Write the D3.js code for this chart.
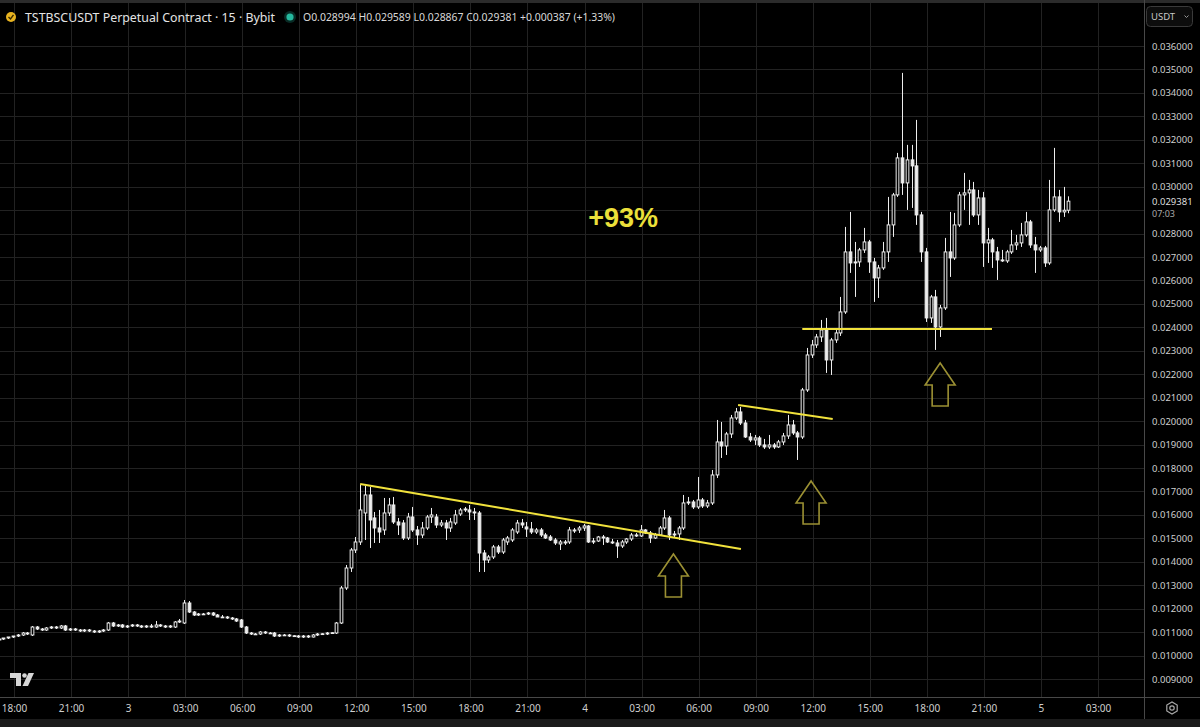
<!DOCTYPE html>
<meta charset="utf-8">
<head>
<style>
  body { margin: 0; background: #000; overflow: hidden; }
  #chart text { font-family: "Noto Sans", Roboto, sans-serif; }
</style>
</head>
<body>
<div id="chart"></div>
<script src="https://cdn.jsdelivr.net/npm/d3@7"></script>
<script>

// 15 minute bars, bar 0 = 17:15 on day 2
var opens = [
  0.010664,0.010706,0.010749,0.010792,0.010834,0.010877,0.010962,0.010877,0.011218,0.011133,
  0.011090,0.011176,0.011218,0.011176,0.011261,0.011090,0.011133,0.011090,0.011048,0.011090,
  0.011048,0.011005,0.011048,0.011090,0.011389,0.011261,0.011304,0.011218,0.011261,0.011304,
  0.011261,0.011218,0.011261,0.011218,0.011304,0.011261,0.011218,0.011218,0.011432,0.011389,
  0.012242,0.011858,0.011730,0.011773,0.011773,0.011816,0.011730,0.011645,0.011645,0.011602,
  0.011560,0.011517,0.011218,0.010962,0.010920,0.010920,0.011005,0.010962,0.010962,0.010834,
  0.010877,0.010877,0.010834,0.010834,0.010792,0.010834,0.010792,0.010877,0.010920,0.010920,
  0.010962,0.010962,0.011389,0.012882,0.013735,0.014503,0.014845,0.016082,0.016850,0.015869,
  0.015442,0.015357,0.016082,0.016423,0.015698,0.015655,0.015015,0.015911,0.015357,0.015143,
  0.015442,0.015911,0.015911,0.015570,0.015655,0.015442,0.015655,0.016039,0.016210,0.016210,
  0.016125,0.016082,0.014375,0.014077,0.014205,0.014631,0.014418,0.014845,0.014930,0.015271,
  0.015655,0.015485,0.015399,0.015271,0.015357,0.015143,0.015058,0.014930,0.014760,0.014845,
  0.014845,0.015314,0.015357,0.015442,0.015527,0.014845,0.014887,0.015058,0.015015,0.014845,
  0.014802,0.014674,0.014845,0.014973,0.015143,0.015101,0.015357,0.015229,0.015015,0.015143,
  0.015442,0.015869,0.015143,0.015186,0.015442,0.016509,0.016551,0.016338,0.016637,0.016381,
  0.016509,0.017703,0.019111,0.018940,0.019452,0.020135,0.020391,0.019921,0.019324,0.019196,
  0.019282,0.018983,0.018898,0.018983,0.018898,0.019111,0.019367,0.019836,0.019495,0.019324,
  0.021329,0.022822,0.023249,0.023590,0.023889,0.022609,0.023462,0.023761,0.024657,0.027217,
  0.026747,0.026790,0.027302,0.027643,0.026790,0.026108,0.026534,0.027217,0.028369,0.029648,
  0.031227,0.030160,0.031142,0.030886,0.028795,0.027217,0.024401,0.025297,0.024017,0.024828,
  0.027217,0.026961,0.028369,0.029648,0.029734,0.029862,0.028795,0.029520,0.027601,0.027729,
  0.027217,0.026875,0.026833,0.027217,0.027515,0.027601,0.027942,0.028497,0.027515,0.027302,
  0.027387,0.026747,0.029009,0.029563,0.028923,0.028994
];
var highs = [
  0.010706,0.010749,0.010792,0.010834,0.010920,0.011005,0.011005,0.011261,0.011261,0.011176,
  0.011218,0.011261,0.011261,0.011304,0.011304,0.011176,0.011176,0.011133,0.011133,0.011133,
  0.011090,0.011090,0.011133,0.011432,0.011432,0.011346,0.011346,0.011304,0.011346,0.011346,
  0.011304,0.011304,0.011346,0.011474,0.011346,0.011304,0.011304,0.011474,0.011560,0.012370,
  0.012327,0.011901,0.011816,0.011816,0.011858,0.011858,0.011773,0.011730,0.011688,0.011645,
  0.011602,0.011560,0.011261,0.011005,0.010962,0.011048,0.011048,0.011005,0.011005,0.010920,
  0.010920,0.010920,0.010877,0.010877,0.010877,0.010877,0.010920,0.010962,0.010962,0.011005,
  0.011005,0.011432,0.012967,0.013863,0.014589,0.015058,0.017277,0.017234,0.017191,0.016125,
  0.016210,0.016722,0.016722,0.016765,0.015869,0.015783,0.016082,0.016338,0.015527,0.015698,
  0.015997,0.016295,0.016039,0.015783,0.015783,0.015869,0.016210,0.016295,0.016338,0.016423,
  0.016295,0.016167,0.014503,0.014290,0.014717,0.014717,0.015015,0.015101,0.015442,0.015783,
  0.015826,0.015698,0.015698,0.015442,0.015442,0.015229,0.015143,0.015015,0.014930,0.014930,
  0.015485,0.015442,0.015527,0.015613,0.015570,0.015015,0.015101,0.015143,0.015058,0.014973,
  0.014930,0.014930,0.015015,0.015229,0.015229,0.015570,0.015399,0.015314,0.015229,0.015527,
  0.016210,0.015954,0.015314,0.015527,0.016850,0.016765,0.016637,0.017618,0.016722,0.016637,
  0.017916,0.020049,0.019964,0.019538,0.020263,0.020561,0.020604,0.020049,0.019495,0.019410,
  0.019367,0.019239,0.019410,0.019068,0.019196,0.019495,0.020263,0.020049,0.019580,0.021415,
  0.023121,0.023462,0.023718,0.024316,0.024401,0.023548,0.023889,0.025297,0.028283,0.028923,
  0.027643,0.027387,0.028241,0.027729,0.026961,0.026662,0.027643,0.029563,0.029734,0.031440,
  0.034853,0.031782,0.031782,0.032848,0.028923,0.027387,0.025382,0.025596,0.024956,0.027814,
  0.028923,0.028881,0.029776,0.030587,0.030288,0.030203,0.029862,0.029776,0.028241,0.027814,
  0.027430,0.027302,0.027302,0.028155,0.027942,0.028454,0.028923,0.028582,0.027857,0.027473,
  0.027473,0.030288,0.031654,0.029862,0.029990,0.029589
];
var lows = [
  0.010621,0.010664,0.010706,0.010749,0.010792,0.010834,0.010877,0.010834,0.011090,0.011048,
  0.011048,0.011133,0.011133,0.011133,0.011048,0.011048,0.011048,0.011005,0.011005,0.011005,
  0.010962,0.010962,0.011005,0.011048,0.011218,0.011218,0.011176,0.011176,0.011218,0.011218,
  0.011176,0.011176,0.011176,0.011176,0.011218,0.011176,0.011176,0.011176,0.011389,0.011346,
  0.011816,0.011688,0.011688,0.011730,0.011730,0.011688,0.011645,0.011602,0.011560,0.011517,
  0.011432,0.011176,0.010920,0.010877,0.010877,0.010877,0.010920,0.010920,0.010792,0.010792,
  0.010834,0.010792,0.010792,0.010749,0.010749,0.010749,0.010770,0.010834,0.010877,0.010877,
  0.010920,0.010920,0.011346,0.012797,0.013565,0.014375,0.014717,0.014930,0.014589,0.014802,
  0.014802,0.015143,0.015954,0.015613,0.015143,0.014930,0.014930,0.015271,0.014717,0.015015,
  0.015357,0.015655,0.015442,0.015485,0.014930,0.015271,0.015570,0.015954,0.016125,0.015783,
  0.015783,0.013565,0.013565,0.013949,0.014119,0.014333,0.014333,0.014717,0.014845,0.015186,
  0.015442,0.015058,0.015186,0.015186,0.015058,0.014973,0.014887,0.014717,0.014503,0.014717,
  0.014760,0.015229,0.015229,0.015314,0.014802,0.014760,0.014845,0.014717,0.014802,0.014760,
  0.014162,0.014589,0.014760,0.014887,0.015058,0.015058,0.015186,0.014802,0.014973,0.015101,
  0.015357,0.014930,0.015058,0.014930,0.015357,0.016423,0.016253,0.016253,0.016295,0.016295,
  0.016423,0.017575,0.018428,0.018556,0.019282,0.020049,0.019836,0.019282,0.019111,0.018983,
  0.018898,0.018812,0.018812,0.018812,0.018855,0.018983,0.019239,0.019410,0.018343,0.019239,
  0.021244,0.022694,0.023121,0.023377,0.022055,0.021969,0.023335,0.023633,0.024572,0.026321,
  0.025297,0.026577,0.027174,0.026321,0.025084,0.025254,0.026449,0.026790,0.027857,0.029563,
  0.029648,0.029009,0.029094,0.028369,0.026790,0.024230,0.024188,0.023036,0.023590,0.024742,
  0.026150,0.026875,0.028283,0.029009,0.028369,0.028710,0.028369,0.026577,0.026747,0.026534,
  0.026022,0.026790,0.026747,0.027131,0.027302,0.027430,0.027857,0.027387,0.026321,0.027217,
  0.026577,0.026662,0.028923,0.028497,0.028710,0.028867
];
var closes = [
  0.010706,0.010749,0.010792,0.010834,0.010877,0.010962,0.010920,0.011218,0.011133,0.011090,
  0.011176,0.011218,0.011176,0.011261,0.011090,0.011133,0.011090,0.011048,0.011090,0.011048,
  0.011005,0.011048,0.011090,0.011389,0.011261,0.011304,0.011218,0.011261,0.011304,0.011261,
  0.011218,0.011261,0.011218,0.011304,0.011261,0.011218,0.011261,0.011432,0.011474,0.012242,
  0.011858,0.011730,0.011773,0.011773,0.011816,0.011730,0.011645,0.011630,0.011602,0.011560,
  0.011474,0.011218,0.010962,0.010920,0.010905,0.011005,0.010962,0.010950,0.010834,0.010877,
  0.010865,0.010834,0.010845,0.010792,0.010834,0.010792,0.010877,0.010920,0.010930,0.010962,
  0.010975,0.011389,0.012882,0.013735,0.014503,0.014845,0.016210,0.016850,0.015783,0.015442,
  0.015271,0.016082,0.016423,0.015698,0.015570,0.015015,0.015911,0.015357,0.015143,0.015442,
  0.015911,0.015997,0.015570,0.015655,0.015442,0.015698,0.015997,0.016210,0.016253,0.016125,
  0.016082,0.014375,0.014077,0.014205,0.014631,0.014418,0.014930,0.015015,0.015357,0.015655,
  0.015570,0.015399,0.015271,0.015357,0.015143,0.015015,0.014930,0.014802,0.014845,0.014802,
  0.015357,0.015357,0.015442,0.015527,0.014845,0.014887,0.015058,0.015015,0.014845,0.014802,
  0.014674,0.014845,0.014973,0.015143,0.015101,0.015357,0.015229,0.015015,0.015143,0.015442,
  0.015869,0.015143,0.015186,0.015442,0.016509,0.016551,0.016338,0.016637,0.016381,0.016509,
  0.017703,0.019111,0.018940,0.019452,0.020135,0.020391,0.019921,0.019324,0.019196,0.019282,
  0.018983,0.018898,0.018983,0.018898,0.019111,0.019367,0.019836,0.019495,0.019324,0.021329,
  0.022822,0.023249,0.023590,0.023889,0.022609,0.023462,0.023761,0.024657,0.027217,0.026747,
  0.026790,0.027302,0.027643,0.026790,0.026108,0.026534,0.027217,0.028369,0.029648,0.031227,
  0.030160,0.031142,0.030886,0.028795,0.027217,0.024401,0.025297,0.024017,0.024828,0.027217,
  0.026961,0.028369,0.029648,0.029734,0.029862,0.028795,0.029520,0.027601,0.027729,0.027217,
  0.026875,0.026833,0.027217,0.027515,0.027601,0.027942,0.028497,0.027515,0.027302,0.027387,
  0.026747,0.029009,0.029563,0.028923,0.028994,0.029381
];

var timeLabels = ["18:00","21:00","3","03:00","06:00","09:00","12:00","15:00","18:00","21:00",
                  "4","03:00","06:00","09:00","12:00","15:00","18:00","21:00","5","03:00"];
var timeTickBars = [3,15,27,39,51,63,75,87,99,111,123,135,147,159,171,183,195,207,219,231];

var priceTicks = [0.009,0.010,0.011,0.012,0.013,0.014,0.015,0.016,0.017,0.018,0.019,0.020,0.021,0.022,
                  0.023,0.024,0.025,0.026,0.027,0.028,0.029,0.030,0.031,0.032,0.033,0.034,0.035,0.036];

// drawn trend lines: [bar, price] -> [bar, price]
var lineFrom = [[75.8, 0.017319], [155.3, 0.020689], [168.8, 0.023932]];
var lineTo   = [[155.9, 0.014546], [175.2, 0.020092], [208.7, 0.023932]];

// up arrow tips
var arrowBars   = [141.7, 170.65, 197.8];
var arrowPrices = [0.014333, 0.017447, 0.022481];

var noteText = "+93%";
var noteBar = 131.1, notePrice = 0.028283;

var header = "TSTBSCUSDT Perpetual Contract · 15 · Bybit";
var ohlcText = "O0.028994 H0.029589 L0.028867 C0.029381 +0.000387 (+1.33%)";
var lastPrice = 0.029381, countdown = "07:03";

var W = 1200, H = 727,
    plotRight = 1144, plotBottom = 697;

var svg = d3.select("#chart").append("svg")
    .attr("width", W).attr("height", H)
    .style("display", "block")
    .style("background", "#000");

svg.append("defs").append("clipPath").attr("id", "plotClip")
  .append("rect").attr("x", 0).attr("y", 0).attr("width", plotRight).attr("height", plotBottom);

var x = d3.scaleLinear().domain([3, 231]).range([14, 1098]);
var y = d3.scaleLinear().domain([0.009, 0.036]).range([679, 46]);

// top strip and bottom strip
svg.append("rect").attr("x", 0).attr("y", 0).attr("width", W).attr("height", 3).attr("fill", "#2b2b2b");
svg.append("rect").attr("x", 0).attr("y", 719).attr("width", W).attr("height", H - 719).attr("fill", "#1b1b1b");

// grid
var grid = svg.append("g");
grid.selectAll("line.v").data(timeTickBars).join("line")
    .attr("x1", d => Math.round(x(d)) + 0.5).attr("x2", d => Math.round(x(d)) + 0.5)
    .attr("y1", 3).attr("y2", plotBottom)
    .attr("stroke", "#222");
grid.selectAll("line.h").data(priceTicks).join("line")
    .attr("x1", 0).attr("x2", plotRight)
    .attr("y1", d => Math.round(y(d)) + 0.5).attr("y2", d => Math.round(y(d)) + 0.5)
    .attr("stroke", "#222");

// candles
var bars = opens.map((o, i) => ({ i: i, o: o, h: highs[i], l: lows[i], c: closes[i] }));
var candleCol = "#ededed";
var cg = svg.append("g").attr("clip-path", "url(#plotClip)");

cg.selectAll("line.wick").data(bars).join("line")
    .attr("x1", d => Math.round(x(d.i)) - 0.5).attr("x2", d => Math.round(x(d.i)) - 0.5)
    .attr("y1", d => y(d.h)).attr("y2", d => y(d.l))
    .attr("stroke", candleCol).attr("stroke-width", 1);

cg.selectAll("rect.body").data(bars).join("rect")
    .attr("x", d => Math.round(x(d.i)) - 1.85)
    .attr("width", 2.7)
    .attr("y", d => y(Math.max(d.o, d.c)))
    .attr("height", d => Math.max(0.8, Math.abs(y(d.o) - y(d.c))))
    .attr("fill", d => d.c >= d.o ? "#000" : candleCol)
    .attr("stroke", candleCol).attr("stroke-width", 1);

// trend lines
cg.selectAll("line.trend").data(lineFrom).join("line")
    .attr("x1", d => x(d[0])).attr("y1", d => y(d[1]))
    .attr("x2", (d, k) => x(lineTo[k][0])).attr("y2", (d, k) => y(lineTo[k][1]))
    .attr("stroke", "#f1e23c").attr("stroke-width", 2);

// arrows
var arrowPath = function(tx, ty) {
  return "M" + tx + "," + ty +
    " L" + (tx + 15) + "," + (ty + 22) +
    " L" + (tx + 8) + "," + (ty + 22) +
    " L" + (tx + 8) + "," + (ty + 43) +
    " L" + (tx - 8) + "," + (ty + 43) +
    " L" + (tx - 8) + "," + (ty + 22) +
    " L" + (tx - 15) + "," + (ty + 22) + " Z";
};
cg.selectAll("path.arrow").data(arrowBars).join("path")
    .attr("d", (d, k) => arrowPath(x(d), y(arrowPrices[k])))
    .attr("fill", "none").attr("stroke", "#9b9033").attr("stroke-width", 1.6)
    .attr("stroke-linejoin", "miter");

// +93% note
svg.append("text")
    .attr("x", x(noteBar)).attr("y", y(notePrice))
    .attr("text-anchor", "middle")
    .style("font-family", "'Liberation Sans', Arial, sans-serif")
    .style("font-weight", "bold").style("font-size", "27px")
    .attr("fill", "#ece03a")
    .text(noteText);

// axes frame
svg.append("line").attr("x1", 0).attr("x2", W).attr("y1", plotBottom + 0.5).attr("y2", plotBottom + 0.5)
    .attr("stroke", "#484848");
svg.append("line").attr("x1", plotRight + 0.5).attr("x2", plotRight + 0.5).attr("y1", 0).attr("y2", 719)
    .attr("stroke", "#484848");

// price axis
var shownTicks = priceTicks.filter(d => Math.abs(d - 0.029) > 1e-9);
var yAxis = svg.append("g")
    .attr("transform", "translate(" + plotRight + ",0)")
    .call(d3.axisRight(y).tickValues(shownTicks).tickSize(0).tickPadding(8)
          .tickFormat(d => d.toFixed(6)));
yAxis.select(".domain").remove();
yAxis.selectAll("text").attr("fill", "#cfcfcf").style("font-size", "9.5px");

// last price label
svg.append("text").attr("x", 1152).attr("y", y(lastPrice) + 3.5)
    .attr("fill", "#dedede").style("font-size", "9.5px").text(lastPrice.toFixed(6));
svg.append("text").attr("x", 1152).attr("y", y(lastPrice) + 15.5)
    .attr("fill", "#a8a8a8").style("font-size", "9px").text(countdown);

// time axis
var xAxis = svg.append("g")
    .attr("transform", "translate(0," + plotBottom + ")")
    .call(d3.axisBottom(x).tickValues(timeTickBars).tickSize(0).tickPadding(8)
          .tickFormat((d, k) => timeLabels[k]));
xAxis.select(".domain").remove();
xAxis.selectAll("text").attr("fill", "#cfcfcf").style("font-size", "10px");

// header
svg.append("circle").attr("cx", 11).attr("cy", 17).attr("r", 5).attr("fill", "#e8b320");
svg.append("path").attr("d", "M8.5,17 L10.5,19 L13.5,14.8")
    .attr("fill", "none").attr("stroke", "#3a2a00").attr("stroke-width", 1.4);
svg.append("text").attr("x", 25).attr("y", 21.5)
    .attr("fill", "#e4e4e4").style("font-size", "12.5px")
    .attr("textLength", 250).attr("lengthAdjust", "spacingAndGlyphs")
    .text(header);
svg.append("circle").attr("cx", 290).attr("cy", 17).attr("r", 6).attr("fill", "#22ab94").attr("opacity", 0.25);
svg.append("circle").attr("cx", 290).attr("cy", 17).attr("r", 3.6).attr("fill", "#25b89e");
svg.append("text").attr("x", 303).attr("y", 20.5)
    .attr("fill", "#d8d8d8").style("font-size", "10px")
    .attr("textLength", 312).attr("lengthAdjust", "spacingAndGlyphs")
    .text(ohlcText);

// currency button
svg.append("rect").attr("x", 1146.5).attr("y", 6.5).attr("width", 46).attr("height", 20).attr("rx", 4)
    .attr("fill", "#0d0d0d").attr("stroke", "#3a3a3a");
svg.append("text").attr("x", 1151).attr("y", 20).attr("fill", "#c8c8c8").style("font-size", "9.5px").text("USDT");
svg.append("path").attr("d", "M1184.5,15.5 L1186.5,17.5 L1188.5,15.5")
    .attr("fill", "none").attr("stroke", "#9a9a9a").attr("stroke-width", 1);

// settings icon
var hex = d3.range(6).map(k => {
  var a = Math.PI / 6 + k * Math.PI / 3;
  return [1172 + 6 * Math.cos(a), 708 + 6 * Math.sin(a)];
});
svg.append("path").attr("d", "M" + hex.join("L") + "Z")
    .attr("fill", "none").attr("stroke", "#a8a8a8").attr("stroke-width", 1.2);
svg.append("circle").attr("cx", 1172).attr("cy", 708).attr("r", 2.2)
    .attr("fill", "none").attr("stroke", "#a8a8a8").attr("stroke-width", 1.2);

// TradingView logo
svg.append("path").attr("d", "M10,673 H21 V686 H16 V678 H10 Z").attr("fill", "#d6d6d6");
svg.append("circle").attr("cx", 24.5).attr("cy", 675.5).attr("r", 2.3).attr("fill", "#d6d6d6");
svg.append("path").attr("d", "M28.5,673 H34 L28,686 H22.5 Z").attr("fill", "#d6d6d6");

</script>
</body>
